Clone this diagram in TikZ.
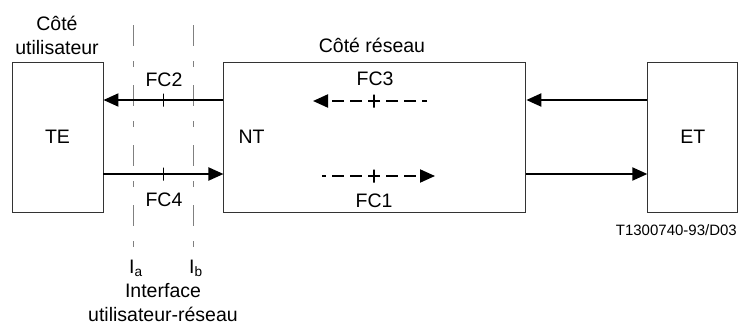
\documentclass[tikz,border=0pt]{standalone}
\usepackage{fontspec}
\setmainfont{Liberation Sans}
\usetikzlibrary{arrows.meta, positioning}

\begin{document}
\begin{tikzpicture}[
    x=1pt, y=-1pt,
    font=\fontsize{19.5}{24}\selectfont,
    box/.style={rectangle, draw=black!80, line width=0.9pt, minimum height=150pt, inner sep=0pt},
    arrow/.style={-{Triangle[length=15pt, width=13pt]}, line width=2pt},
    dasharrow/.style={arrow, dash pattern=on 12pt off 6pt},
    iface/.style={draw=black!50, line width=0.9pt, dash pattern=on 21pt off 15pt on 6pt off 18pt},
    tick/.style={rectangle, draw, line width=1.6pt, minimum width=0pt, minimum height=13pt, inner sep=0pt},
    lbl/.style={anchor=base, inner sep=0pt}
]
\useasboundingbox (0,0) rectangle (738,324);

% Nodes
\node[box, minimum width=91pt] (te) at (57.5,137) {TE};
\node[box, minimum width=302pt, right=120pt of te] (nt) {};
\node[box, minimum width=90pt, right=121pt of nt] (et) {ET};
\node[inner sep=0pt, right=15pt of nt.west] (ntlbl) {NT};

% Headings
\node[align=center, inner sep=0pt] (userside) at (57,35) {Côté\\utilisateur};
\node[lbl] (netside) at (372,52) {Côté réseau};
\node[anchor=base east, inner sep=0pt, font=\fontsize{15}{18}\selectfont] (ref) at (737,235) {T1300740-93/D03};

% Interface lines
\coordinate (iatop) at (133,25);
\coordinate (ibtop) at (193,25);
\node[lbl] (ia) at (136,273) {I\textsubscript{a}};
\node[lbl] (ib) at (196,273) {I\textsubscript{b}};
\draw[iface] (iatop) -- (iatop |- 0,258);
\draw[iface] (ibtop) -- (ibtop |- 0,258);
\node[align=center, inner sep=0pt, anchor=north] (iface) at (163,283) {Interface\\utilisateur-réseau};

% Rows of the arrows
\coordinate (up) at (0,100);
\coordinate (dn) at (0,174);

% Arrows
\draw[arrow] (nt.west |- up) -- node[tick] {} (te.east |- up);
\draw[arrow] (te.east |- dn) -- node[tick] {} (nt.west |- dn);
\draw[arrow] (et.west |- up) -- (nt.east |- up);
\draw[arrow] (nt.east |- dn) -- (et.west |- dn);
\node[lbl] (fc2) at (164,86) {FC2};
\node[lbl] (fc4) at (164,206) {FC4};

% Dashed arrows inside NT
\coordinate (fc3a) at (427,101);
\coordinate (fc3b) at (313,101);
\coordinate (fc1a) at (322,176);
\coordinate (fc1b) at (435,176);
\draw[dasharrow, dash phase=7pt] (fc3a) -- (fc3b);
\draw[dasharrow, dash phase=8pt] (fc1a) -- (fc1b);
\node[tick] (t3) at (374,101) {};
\node[tick] (t1) at (374,176) {};
\node[lbl] (fc3) at (375,85) {FC3};
\node[lbl] (fc1) at (374,207) {FC1};

\end{tikzpicture}
\end{document}
